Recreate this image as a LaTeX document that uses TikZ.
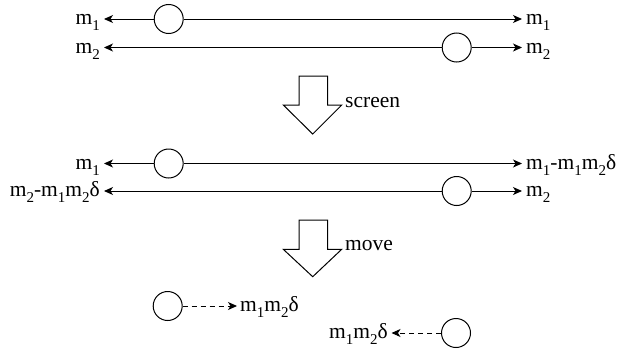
\documentclass[tikz,border=0pt]{standalone}
\usepackage{fontspec}
\setmainfont{Liberation Serif}
\newfontfamily\labfont{Liberation Serif}
\usetikzlibrary{arrows.meta}
\newcommand\sbs[1]{\raisebox{-0.28em}{\fontsize{15}{16}\selectfont #1}}
\begin{document}
\begin{tikzpicture}[x=1pt,y=-1pt,
  ball/.style={circle,draw,line width=1pt,minimum size=29pt,inner sep=0pt,fill=white},
  lab/.style={font=\labfont\fontsize{21.5}{24}\selectfont,inner sep=0pt},
  conn/.style={line width=1pt,-{Stealth[length=9pt,width=8pt,inset=2.5pt]}},
  dconn/.style={conn,dash pattern=on 5pt off 4pt},
  bigarrow/.style={draw,line width=1pt,fill=white,line join=miter}]
\useasboundingbox (0,0) rectangle (618,351);
% ---- rows 1-2
\node[ball] (a1) at (168.7,19) {};
\node[ball] (a2) at (456.7,47.5) {};
\node[lab,anchor=base east] (a1l) at (100,24.5) {m\sbs{1}};
\node[lab,anchor=base west] (a1r) at (526,24.5) {m\sbs{1}};
\node[lab,anchor=base east] (a2l) at (100,53) {m\sbs{2}};
\node[lab,anchor=base west] (a2r) at (526,53) {m\sbs{2}};
\draw[conn] (a1.west) -- ([xshift=4pt]a1l.east |- a1);
\draw[conn] (a1.east) -- ([xshift=-4pt]a1r.west |- a1);
\draw[conn] (a2.west) -- ([xshift=4pt]a2l.east |- a2);
\draw[conn] (a2.east) -- ([xshift=-4pt]a2r.west |- a2);
% ---- screen arrow
\draw[bigarrow] (299,76) -- (327.7,76) -- (327.7,105) -- (341.7,105) -- (312.7,134) -- (283.3,105) -- (299,105) -- cycle;
\node[lab,anchor=west] (scr) at (345,103) {screen};
% ---- rows 3-4
\node[ball] (b1) at (168.7,163.5) {};
\node[ball] (b2) at (456.7,191) {};
\node[lab,anchor=base east] (b1l) at (100,169) {m\sbs{1}};
\node[lab,anchor=base west] (b1r) at (526,169) {m\sbs{1}-m\sbs{1}m\sbs{2}δ};
\node[lab,anchor=base east] (b2l) at (100,196.5) {m\sbs{2}-m\sbs{1}m\sbs{2}δ};
\node[lab,anchor=base west] (b2r) at (526,196.5) {m\sbs{2}};
\draw[conn] (b1.west) -- ([xshift=4pt]b1l.east |- b1);
\draw[conn] (b1.east) -- ([xshift=-4pt]b1r.west |- b1);
\draw[conn] (b2.west) -- ([xshift=4pt]b2l.east |- b2);
\draw[conn] (b2.east) -- ([xshift=-4pt]b2r.west |- b2);
% ---- move arrow
\draw[bigarrow] (299,220) -- (327.7,220) -- (327.7,249.3) -- (341.7,249.3) -- (312.7,276.7) -- (283.3,249.3) -- (299,249.3) -- cycle;
\node[lab,anchor=west] (mov) at (345,246) {move};
% ---- rows 5-6
\node[ball] (c1) at (167.7,306) {};
\node[ball] (c2) at (456,333) {};
\node[lab,anchor=base west] (c1r) at (240,311.5) {m\sbs{1}m\sbs{2}δ};
\node[lab,anchor=base east] (c2l) at (388,338.5) {m\sbs{1}m\sbs{2}δ};
\draw[dconn] (c1.east) -- ([xshift=-3pt]c1r.west |- c1);
\draw[dconn] (c2.west) -- ([xshift=3.5pt]c2l.east |- c2);
\end{tikzpicture}
\end{document}
